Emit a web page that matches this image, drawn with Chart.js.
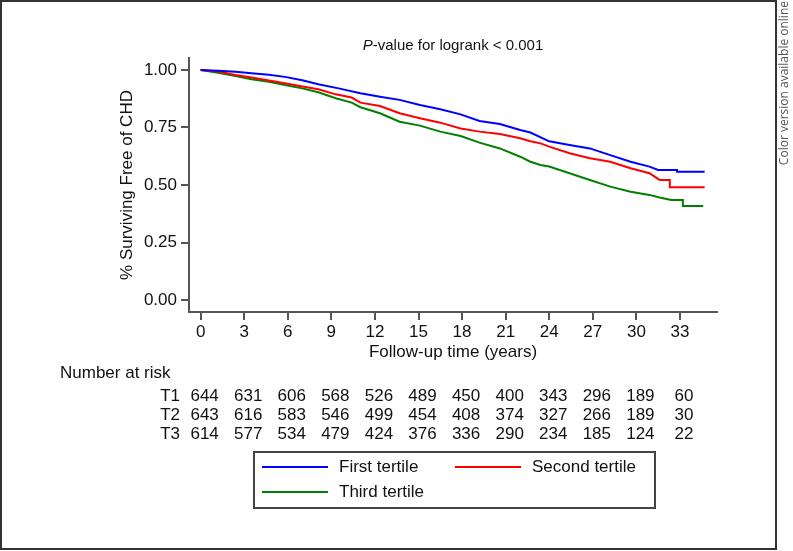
<!DOCTYPE html>
<html>
<head>
<meta charset="utf-8">
<script src="https://cdn.jsdelivr.net/npm/chart.js@4.4.1/dist/chart.umd.min.js"></script>
<style>
  html, body { margin: 0; padding: 0; background: #fff; }
  #wrap { position: relative; width: 793px; height: 551px; }
</style>
</head>
<body>
<div id="wrap"><canvas id="km" width="793" height="551"></canvas></div>
<script>
  // Kaplan-Meier estimates (years, survival)
  const t1Time = [0, 1.2, 2.4, 3.5, 4.7, 5.8, 7.0, 8.1, 9.5, 11.0, 12.35, 13.7, 15.1, 16.5, 17.9, 19.2, 20.6, 22.0, 22.7, 24.0, 25.4, 26.8, 28.2, 29.6, 30.9, 31.5, 32.8, 32.8, 34.7];
  const t1Surv = [1.0, 0.997, 0.992, 0.986, 0.979, 0.970, 0.955, 0.938, 0.920, 0.899, 0.884, 0.870, 0.848, 0.829, 0.807, 0.778, 0.765, 0.739, 0.728, 0.690, 0.674, 0.659, 0.630, 0.601, 0.580, 0.565, 0.565, 0.558, 0.558];

  const t2Time = [0, 1.2, 2.4, 3.5, 4.7, 5.8, 7.0, 8.1, 9.3, 10.4, 11.0, 12.35, 13.7, 15.1, 16.5, 17.9, 19.2, 20.6, 22.0, 22.7, 23.4, 24.0, 25.4, 26.8, 28.2, 29.6, 30.9, 31.6, 32.3, 32.3, 34.7];
  const t2Surv = [1.0, 0.993, 0.978, 0.967, 0.954, 0.942, 0.928, 0.916, 0.894, 0.880, 0.858, 0.843, 0.812, 0.790, 0.771, 0.746, 0.732, 0.722, 0.703, 0.690, 0.681, 0.667, 0.638, 0.616, 0.601, 0.573, 0.551, 0.522, 0.522, 0.490, 0.490];

  const t3Time = [0, 1.2, 2.4, 3.5, 4.7, 5.8, 7.0, 8.1, 9.3, 10.4, 11.0, 12.35, 13.7, 15.1, 16.5, 17.9, 19.2, 20.6, 22.0, 22.7, 23.4, 24.0, 25.4, 26.8, 28.2, 29.6, 30.9, 31.6, 32.4, 33.2, 33.2, 34.6];
  const t3Surv = [1.0, 0.988, 0.974, 0.960, 0.949, 0.935, 0.920, 0.903, 0.877, 0.858, 0.838, 0.812, 0.775, 0.758, 0.732, 0.713, 0.684, 0.659, 0.623, 0.601, 0.587, 0.580, 0.551, 0.522, 0.493, 0.471, 0.457, 0.446, 0.435, 0.435, 0.409, 0.409];

  const seriesNames = ['First tertile', 'Second tertile', 'Third tertile'];
  const seriesColors = ['#0000ff', '#ff0000', '#008000'];

  const xTicks = [0, 3, 6, 9, 12, 15, 18, 21, 24, 27, 30, 33];
  const yTicks = [0, 0.25, 0.5, 0.75, 1];

  const riskLabels = ['T1', 'T2', 'T3'];
  const riskT1 = [644, 631, 606, 568, 526, 489, 450, 400, 343, 296, 189, 60];
  const riskT2 = [643, 616, 583, 546, 499, 454, 408, 374, 327, 266, 189, 30];
  const riskT3 = [614, 577, 534, 479, 424, 376, 336, 290, 234, 185, 124, 22];

  const FONT = '"Liberation Sans", Arial, sans-serif';
  const FS = 17;
  const axisColor = '#555';

  const toPts = (ts, ss) => ts.map((t, i) => ({ x: t, y: ss[i] }));

  const extras = {
    id: 'extras',
    afterDraw(chart) {
      const { ctx, chartArea } = chart;
      const xs = chart.scales.x;
      const cx = (chartArea.left + chartArea.right) / 2;
      ctx.save();

      // outer frame
      ctx.strokeStyle = '#333';
      ctx.lineWidth = 2;
      ctx.strokeRect(1, 1, 775, 548);

      // title with italic P
      ctx.fillStyle = '#111';
      ctx.textBaseline = 'middle';
      const p1 = 'P', p2 = '-value for logrank < 0.001';
      ctx.font = 'italic 15px ' + FONT;
      const w1 = ctx.measureText(p1).width;
      ctx.font = '15px ' + FONT;
      const w2 = ctx.measureText(p2).width;
      const tx = cx - (w1 + w2) / 2;
      ctx.textAlign = 'left';
      ctx.font = 'italic 15px ' + FONT;
      ctx.fillText(p1, tx, 46);
      ctx.font = '15px ' + FONT;
      ctx.fillText(p2, tx + w1, 46);

      // axis titles
      ctx.font = FS + 'px ' + FONT;
      ctx.textAlign = 'center';
      ctx.fillText('Follow-up time (years)', cx, 352);
      ctx.save();
      ctx.translate(127, (chartArea.top + chartArea.bottom) / 2);
      ctx.rotate(-Math.PI / 2);
      ctx.fillText('% Surviving Free of CHD', 0, 0);
      ctx.restore();

      // number at risk table
      ctx.textAlign = 'left';
      ctx.fillText('Number at risk', 60, 373);
      const rows = [riskT1, riskT2, riskT3];
      const rowY = [396, 415, 434];
      rows.forEach((row, r) => {
        ctx.textAlign = 'right';
        ctx.fillText(riskLabels[r], 180, rowY[r]);
        ctx.textAlign = 'center';
        row.forEach((n, i) => ctx.fillText(String(n), xs.getPixelForValue(xTicks[i]) + 4, rowY[r]));
      });

      // legend box
      ctx.strokeStyle = '#444';
      ctx.lineWidth = 2;
      ctx.strokeRect(254, 452, 401, 56);
      const items = [[262, 467], [455, 467], [262, 492]];
      items.forEach(([lx, ly], i) => {
        ctx.strokeStyle = seriesColors[i];
        ctx.lineWidth = 2;
        ctx.beginPath();
        ctx.moveTo(lx, ly);
        ctx.lineTo(lx + 66, ly);
        ctx.stroke();
        ctx.textAlign = 'left';
        ctx.fillStyle = '#111';
        ctx.fillText(seriesNames[i], lx + 77, ly);
      });

      // side note
      ctx.save();
      ctx.translate(785, 1);
      ctx.rotate(-Math.PI / 2);
      ctx.textAlign = 'right';
      ctx.font = '12px "Open Sans", sans-serif';
      ctx.fillStyle = '#555';
      ctx.fillText('Color version available online', 0, 0);
      ctx.restore();

      ctx.restore();
    }
  };

  new Chart(document.getElementById('km'), {
    type: 'line',
    data: {
      datasets: [
        { data: toPts(t1Time, t1Surv) },
        { data: toPts(t2Time, t2Surv) },
        { data: toPts(t3Time, t3Surv) },
      ].map((d, i) => ({
        ...d,
        label: seriesNames[i],
        borderColor: seriesColors[i],
        borderWidth: 2,
        pointRadius: 0,
        tension: 0,
        fill: false,
      }))
    },
    options: {
      responsive: false,
      animation: false,
      layout: { padding: { left: 0, right: 76, top: 58, bottom: 189 } },
      plugins: { legend: { display: false }, tooltip: { enabled: false } },
      scales: {
        x: {
          type: 'linear',
          min: -0.8,
          max: 35.55,
          afterBuildTicks: s => { s.ticks = xTicks.map(v => ({ value: v })); },
          afterFit: s => { s.height = 50; },
          grid: { drawOnChartArea: false, drawTicks: true, tickLength: 8, color: axisColor, lineWidth: 2 },
          border: { display: true, color: axisColor, width: 2 },
          ticks: { color: '#111', font: { family: FONT, size: FS }, padding: 2, maxRotation: 0, autoSkip: false }
        },
        y: {
          min: -0.052,
          max: 1.052,
          afterBuildTicks: s => { s.ticks = yTicks.map(v => ({ value: v })); },
          afterFit: s => { s.width = 189; },
          grid: { drawOnChartArea: false, drawTicks: true, tickLength: 8, color: axisColor, lineWidth: 2 },
          border: { display: true, color: axisColor, width: 2 },
          ticks: { color: '#111', font: { family: FONT, size: FS }, padding: 4, callback: v => v.toFixed(2) }
        }
      }
    },
    plugins: [extras]
  });
</script>
</body>
</html>
